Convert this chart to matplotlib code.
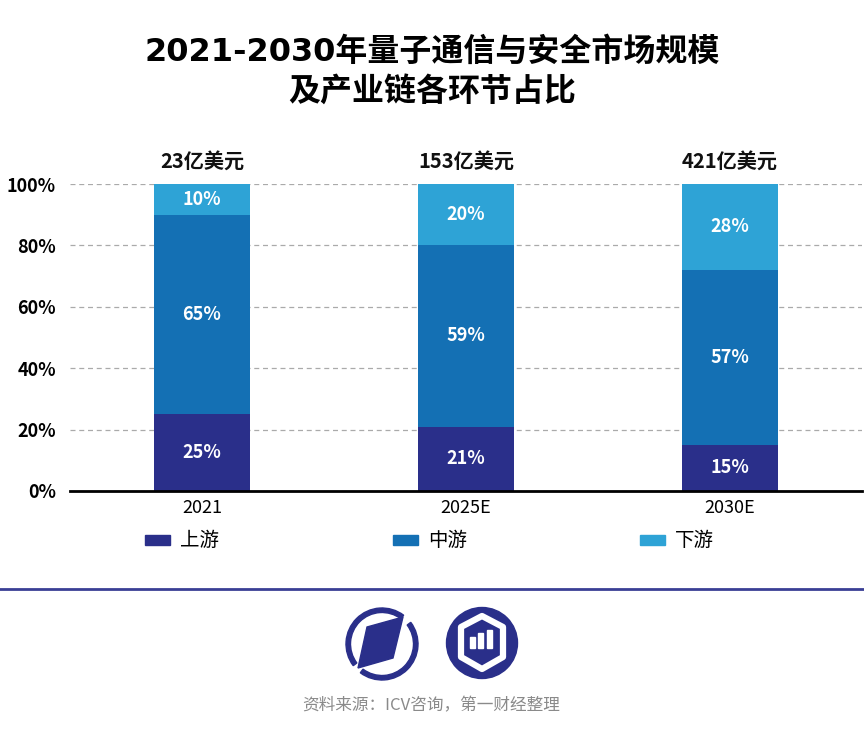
import matplotlib.pyplot as plt
from matplotlib.patches import Circle, Polygon, Rectangle, Wedge

plt.rcParams['font.family'] = ['Noto Sans CJK SC', 'DejaVu Sans']

years = ["2021", "2025E", "2030E"]
totals = ["23亿美元", "153亿美元", "421亿美元"]
upstream = [25, 21, 15]
midstream = [65, 59, 57]
downstream = [10, 20, 28]
series_names = ["上游", "中游", "下游"]
colors = ["#2a2f8a", "#1470b4", "#2ea3d6"]

fig = plt.figure(figsize=(8.64, 7.32), dpi=100)
ax = fig.add_axes([70 / 864, 1 - 491 / 732, 792 / 864, 307 / 732])

x = range(len(years))
bottom = [0, 0, 0]
for vals, col in zip([upstream, midstream, downstream], colors):
    ax.bar(x, vals, width=0.36, bottom=bottom, color=col, zorder=3)
    for i, v in enumerate(vals):
        ax.text(i, bottom[i] + v / 2, f"{v}%", ha="center", va="center",
                color="white", fontsize=13, fontweight="bold", zorder=4)
    bottom = [b + v for b, v in zip(bottom, vals)]

for i, t in enumerate(totals):
    ax.text(i, 104, t, ha="center", va="bottom", fontsize=14.5,
            fontweight="bold", color="#111111")

ax.set_xlim(-0.5, 2.5)
ax.set_ylim(0, 100)
ax.set_yticks([0, 20, 40, 60, 80, 100])
ax.set_yticklabels([f"{v}%" for v in [0, 20, 40, 60, 80, 100]],
                   fontsize=13, fontweight="bold")
ax.set_xticks(list(x))
ax.set_xticklabels(years, fontsize=13)
ax.tick_params(length=0, pad=10)
ax.tick_params(axis="x", pad=6)
ax.yaxis.grid(True, linestyle=(0, (4, 3)), color="#aaaaaa", linewidth=0.9, zorder=0)
for s in ["top", "right", "left"]:
    ax.spines[s].set_visible(False)
ax.spines["bottom"].set_linewidth(2)
ax.spines["bottom"].set_zorder(5)

title_font = ["DejaVu Sans", "Noto Sans CJK SC"]
fig.text(0.5, 1 - 52 / 732, "2021-2030年量子通信与安全市场规模", ha="center",
         va="center", fontsize=23, fontweight="bold", family=title_font)
fig.text(0.5, 1 - 92 / 732, "及产业链各环节占比", ha="center",
         va="center", fontsize=23, fontweight="bold", family=title_font)

# decorations in pixel coords
deco = fig.add_axes([0, 0, 1, 1], zorder=-1)
deco.set_xlim(0, 864)
deco.set_ylim(732, 0)
deco.axis("off")

legend_x = [145, 393, 640]
for lx, name, col in zip(legend_x, series_names, colors):
    deco.add_patch(Rectangle((lx, 535), 25, 10, color=col))
    deco.text(lx + 35, 541, name, ha="left", va="center", fontsize=14)

deco.plot([0, 864], [589, 589], color="#3a3f95", linewidth=2)

navy = "#2a2f8a"
# left logo
cx, cy = 382, 644
deco.add_patch(Wedge((cx, cy), 36, -37, 127, width=4.5, color=navy))
deco.add_patch(Wedge((cx, cy), 36, 143, 307, width=4.5, color=navy))
deco.add_patch(Polygon([(367, 627), (403, 617), (393, 658), (358, 668)],
                       closed=True, color=navy))
# right logo
cx2, cy2 = 482, 643
deco.add_patch(Circle((cx2, cy2), 35.5, color=navy))
hexpts = [(cx2, cy2 - 27), (cx2 + 21, cy2 - 16), (cx2 + 21, cy2 + 14),
          (cx2, cy2 + 26), (cx2 - 21, cy2 + 14), (cx2 - 21, cy2 - 16)]
deco.add_patch(Polygon(hexpts, closed=True, facecolor=navy, edgecolor="white",
                       linewidth=4.5, joinstyle="round"))
for bx, top in [(-12, 637), (-4, 633), (5, 630)]:
    deco.add_patch(Rectangle((cx2 + bx, top), 4.5, 648 - top, color="white"))

deco.text(431, 706, "资料来源：ICV咨询，第一财经整理", ha="center", va="center",
          fontsize=12, color="#8a8a8a")

fig.savefig("out.png", dpi=100)
